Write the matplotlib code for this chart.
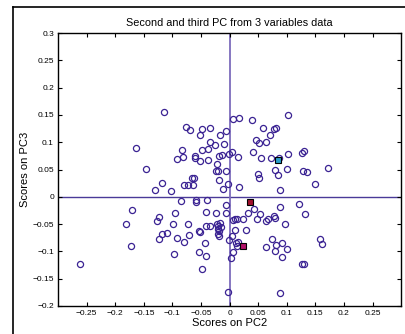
import matplotlib
matplotlib.use("Agg")
import matplotlib.pyplot as plt
from matplotlib.lines import Line2D

plt.rcParams['font.family'] = ['Liberation Sans', 'DejaVu Sans']

# scores
pc2 = [-0.115, 0.006, 0.016, 0.039, 0.103,
       -0.077, -0.070, -0.049, -0.034, -0.051, -0.016, -0.006,
       0.059, 0.077, 0.082, 0.070, 0.046, 0.051, 0.064,
       -0.164, -0.083, -0.034, -0.026, -0.010, -0.048, -0.038,
       -0.061, -0.060, -0.082, -0.092, -0.052, -0.037, -0.019, -0.013, -0.001, 0.004,
       0.015, 0.041, 0.055, 0.073, 0.086, 0.102, 0.126, 0.130,
       -0.146, -0.022, -0.024, -0.021, -0.006, 0.050, 0.051, 0.080, 0.084, 0.100,
       0.128, 0.136, 0.172,
       -0.118, -0.130, -0.102, -0.066, -0.062, -0.080, -0.073, -0.064, -0.019, -0.012,
       -0.003, 0.017, 0.088, 0.149,
       -0.085, -0.059, -0.058, -0.040, -0.006, 0.088, 0.121,
       -0.171, -0.096, -0.041, -0.023, -0.006, 0.032, 0.042, 0.054, 0.077, 0.132,
       -0.124, -0.127, -0.182, -0.099, -0.073, -0.042, -0.035, -0.022, -0.017, -0.020,
       -0.015, -0.020, -0.019, -0.053, -0.052, -0.118, -0.110, -0.123, -0.092, -0.071,
       -0.079, -0.043, -0.020, -0.018, 0.004, -0.001, 0.010, 0.006, 0.009, 0.013,
       0.024, 0.029, 0.048, 0.064, 0.068, 0.080, 0.097, 0.012, 0.015, 0.013,
       0.006, 0.002, -0.098, -0.053, -0.041, -0.048, -0.172, -0.261, -0.002, 0.088,
       0.074, 0.081, 0.080, 0.064, 0.091, 0.091, 0.100, 0.126, 0.131, 0.158, 0.162]
pc3 = [0.155, 0.142, 0.145, 0.141, 0.149,
       0.128, 0.123, 0.125, 0.126, 0.113, 0.114, 0.121,
       0.126, 0.124, 0.126, 0.113, 0.104, 0.099, 0.101,
       0.089, 0.085, 0.101, 0.095, 0.097, 0.085, 0.088,
       0.075, 0.071, 0.073, 0.069, 0.066, 0.067, 0.075, 0.077, 0.078, 0.082,
       0.073, 0.082, 0.071, 0.071, 0.071, 0.079, 0.080, 0.084,
       0.051, 0.061, 0.047, 0.047, 0.047, 0.041, 0.035, 0.049, 0.040, 0.051,
       0.048, 0.045, 0.052,
       0.026, 0.012, 0.010, 0.035, 0.034, 0.021, 0.021, 0.022, 0.030, 0.014,
       0.023, 0.018, 0.013, 0.024,
       -0.008, -0.005, -0.009, -0.006, -0.015, -0.018, -0.014,
       -0.024, -0.030, -0.027, -0.029, -0.030, -0.029, -0.023, -0.032, -0.035, -0.032,
       -0.037, -0.044, -0.049, -0.049, -0.050, -0.054, -0.054, -0.050, -0.048, -0.054,
       -0.055, -0.059, -0.063, -0.062, -0.065, -0.069, -0.066, -0.077, -0.076, -0.070,
       -0.083, -0.084, -0.069, -0.071, -0.072, -0.080, -0.061, -0.043, -0.041, -0.040,
       -0.040, -0.060, -0.041, -0.044, -0.041, -0.039, -0.049, -0.085, -0.082, -0.090,
       -0.101, -0.112, -0.104, -0.101, -0.109, -0.132, -0.090, -0.123, -0.174, -0.176,
       -0.078, -0.089, -0.099, -0.092, -0.110, -0.084, -0.096, -0.123, -0.124, -0.078, -0.087]

# highlighted samples
hl_pc2 = [0.084, 0.035, 0.023]
hl_pc3 = [0.068, -0.010, -0.091]
hl_colors = ['#2a9fc9', '#a0102c', '#b01068']

xticks = [-0.25, -0.2, -0.15, -0.1, -0.05, 0, 0.05, 0.1, 0.15, 0.2, 0.25]
yticks = [-0.2, -0.15, -0.1, -0.05, 0, 0.05, 0.1, 0.15, 0.2, 0.25, 0.3]

fig = plt.figure(figsize=(4.06, 3.34), dpi=100)
fig.patch.set_facecolor('white')

# figure frame (only left and top edges visible)
fig.add_artist(Line2D([0.032, 0.032], [0.0, 0.979], transform=fig.transFigure, color='black', lw=1.2))
fig.add_artist(Line2D([0.032, 1.0], [0.979, 0.979], transform=fig.transFigure, color='black', lw=1.2))

ax = fig.add_axes([0.143, 0.084, 0.845, 0.817])
ax.axhline(0, color='#4a3a98', lw=1.0, zorder=1)
ax.axvline(0, color='#7d6cbc', lw=1.3, zorder=1)

ax.plot(pc2, pc3, 'o', mfc='none', mec='#3b2393', mew=0.9, ms=4.4, zorder=2)
for x, y, c in zip(hl_pc2, hl_pc3, hl_colors):
    ax.plot(x, y, 's', mfc=c, mec='black', mew=0.8, ms=4.2, zorder=3)

ax.set_xlim(-0.3, 0.3)
ax.set_ylim(-0.2, 0.3)
ax.set_xticks(xticks)
ax.set_yticks(yticks)
ax.set_xticklabels([f'{t:g}'.replace('-', '\u2212') for t in xticks])
ax.set_yticklabels([f'{t:g}'.replace('-', '\u2212') for t in yticks])
ax.tick_params(direction='in', length=3, width=0.8, labelsize=6, top=True, right=True, pad=3,
               colors='black')
for s in ax.spines.values():
    s.set_linewidth(1.0)
    s.set_color('black')

ax.set_title('Second and third PC from 3 variables data', fontsize=7.8, pad=5)
ax.set_xlabel('Scores on PC2', fontsize=8, labelpad=1)
ax.set_ylabel('Scores on PC3', fontsize=8, labelpad=2)

fig.savefig('out.png', dpi=100)
